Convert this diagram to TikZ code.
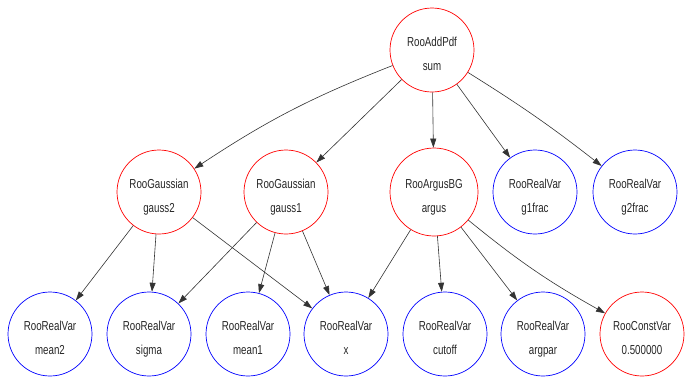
\documentclass[tikz,border=0pt]{standalone}
\usepackage{fontspec}
\newfontfamily\lblfont[FakeStretch=0.75]{Liberation Sans}
\usetikzlibrary{arrows.meta}
\tikzset{
  circ/.style={circle, minimum size=84pt, inner sep=0pt, line width=0.7pt},
  redc/.style={circ, draw=red},
  bluec/.style={circ, draw=blue},
  lbl/.style={anchor=base, inner sep=0pt, font=\lblfont\fontsize{13pt}{15pt}\selectfont, text=black!85},
  edge/.style={draw=black!80, line width=0.6pt, -{Triangle[length=9pt,width=6pt]}}
}
\newcommand\mknode[6]{%
  \node[#4] (#1) at (#2,#3) {};
  \node[lbl] (#1-a) at (#2,#3-4) {#5};
  \node[lbl] (#1-b) at (#2,#3+20) {#6};
}
\begin{document}
\begin{tikzpicture}[x=1pt,y=-1pt]
\useasboundingbox (0,0) rectangle (685,376);
\mknode{sum}{432}{50}{redc}{RooAddPdf}{sum}
\mknode{gauss2}{159}{192}{redc}{RooGaussian}{gauss2}
\mknode{gauss1}{286}{192}{redc}{RooGaussian}{gauss1}
\node[circ, draw=red, minimum size=88pt] (argus) at (434,192) {};
\node[lbl] (argus-a) at (434,188) {RooArgusBG};
\node[lbl] (argus-b) at (434,212) {argus};
\mknode{g1frac}{535}{192}{bluec}{RooRealVar}{g1frac}
\mknode{g2frac}{635}{192}{bluec}{RooRealVar}{g2frac}
\mknode{mean2}{50}{334}{bluec}{RooRealVar}{mean2}
\mknode{sigma}{149}{334}{bluec}{RooRealVar}{sigma}
\mknode{mean1}{248}{334}{bluec}{RooRealVar}{mean1}
\mknode{x}{346}{334}{bluec}{RooRealVar}{x}
\mknode{cutoff}{445}{334}{bluec}{RooRealVar}{cutoff}
\mknode{argpar}{543}{334}{bluec}{RooRealVar}{argpar}
\mknode{const}{642}{334}{redc}{RooConstVar}{0.500000}

\draw[edge] (sum) to[bend right=6] (gauss2);
\draw[edge] (sum) -- (gauss1);
\draw[edge] (sum) -- (argus);
\draw[edge] (sum) -- (g1frac);
\draw[edge] (sum) to[bend left=3] (g2frac);

\draw[edge] (gauss2) -- (mean2);
\draw[edge] (gauss2) -- (sigma);
\draw[edge] (gauss2) -- (x);
\draw[edge] (gauss1) -- (sigma);
\draw[edge] (gauss1) -- (mean1);
\draw[edge] (gauss1) -- (x);

\draw[edge] (argus) -- (x);
\draw[edge] (argus) -- (cutoff);
\draw[edge] (argus) -- (argpar);
\draw[edge] (argus) to[bend right=5] (const);
\end{tikzpicture}
\end{document}
